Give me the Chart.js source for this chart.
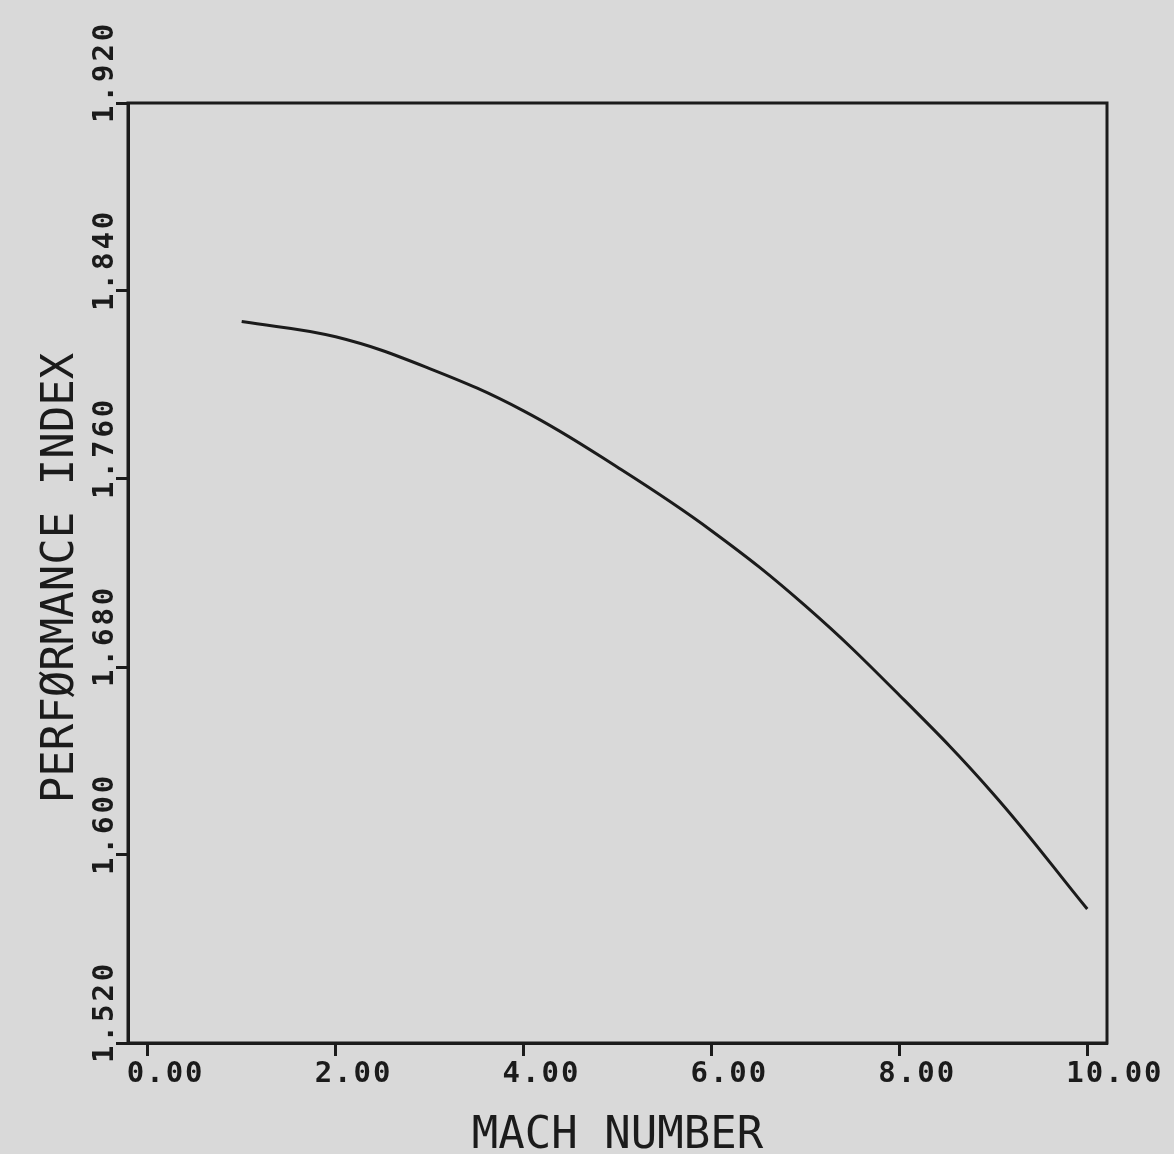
<!DOCTYPE html>
<html>
<head>
<meta charset="utf-8">
<script src="https://cdn.jsdelivr.net/npm/chart.js@4.4.1/dist/chart.umd.min.js"></script>
<style>
    html, body { margin: 0; padding: 0; background: #d9d9d9; }
    #wrap { width: 1174px; height: 1154px; position: relative; }
</style>
</head>
<body>
<div id="wrap"><canvas id="perfChart"></canvas></div>
<script>
// values
const machNumbers = [1, 2, 3, 4, 5, 6, 7, 8, 9, 10];
const performanceIndex = [1.827, 1.8205, 1.807, 1.789, 1.765, 1.738, 1.706, 1.668, 1.626, 1.577];

const xTicks = [0, 2, 4, 6, 8, 10];
const xTickLabels = ['0.00', '2.00', '4.00', '6.00', '8.00', '10.00'];
const yTicks = [1.52, 1.60, 1.68, 1.76, 1.84, 1.92];
const yTickLabels = ['1.520', '1.600', '1.680', '1.760', '1.840', '1.920'];

const ink = '#1b1b1b';
const tickFont = 'bold 29px "DejaVu Sans Mono"';
const titleFont = '44px "DejaVu Sans Mono"';

// frame + plotter-style labels
const plotterLabels = {
    id: 'plotterLabels',
    afterDraw(chart) {
        const ctx = chart.ctx;
        const area = chart.chartArea;
        const xs = chart.scales.x;
        const ys = chart.scales.y;

        ctx.save();
        ctx.strokeStyle = ink;
        ctx.lineWidth = 3;
        ctx.strokeRect(area.left, area.top, area.right - area.left, area.bottom - area.top);

        ctx.fillStyle = ink;
        ctx.font = tickFont;
        ctx.letterSpacing = '2px';
        ctx.textBaseline = 'alphabetic';
        ctx.textAlign = 'left';
        xTicks.forEach((v, i) => {
            ctx.fillText(xTickLabels[i], xs.getPixelForValue(v) - 21, 1082);
        });

        yTicks.forEach((v, i) => {
            ctx.save();
            ctx.translate(113, ys.getPixelForValue(v) + 20);
            ctx.rotate(-Math.PI / 2);
            ctx.letterSpacing = '3px';
            ctx.fillText(yTickLabels[i], 0, 0);
            ctx.restore();
        });

        ctx.font = titleFont;
        ctx.letterSpacing = '0px';
        ctx.textAlign = 'center';
        ctx.fillText('MACH NUMBER', (area.left + area.right) / 2, 1148);

        ctx.translate(73, (area.top + area.bottom) / 2 + 5);
        ctx.rotate(-Math.PI / 2);
        ctx.fillText('PERFØRMANCE INDEX', 0, 0);
        ctx.restore();
    }
};

const ctx = document.getElementById('perfChart').getContext('2d');
new Chart(ctx, {
    type: 'line',
    data: {
        datasets: [{
            data: machNumbers.map((m, i) => ({ x: m, y: performanceIndex[i] })),
            borderColor: ink,
            borderWidth: 3,
            pointRadius: 0,
            fill: false,
            tension: 0.4
        }]
    },
    options: {
        responsive: true,
        maintainAspectRatio: false,
        animation: false,
        layout: { padding: { top: 103, right: 67, left: 0, bottom: 0 } },
        plugins: {
            legend: { display: false },
            tooltip: { enabled: false },
            title: { display: false }
        },
        scales: {
            x: {
                type: 'linear',
                min: -0.21,
                max: 10.21,
                afterBuildTicks: s => { s.ticks = xTicks.map(v => ({ value: v })); },
                afterFit: s => { s.height = 111; },
                ticks: { display: false },
                grid: { drawOnChartArea: false, drawTicks: true, tickLength: 13, tickWidth: 3, color: ink },
                border: { display: true, width: 3, color: ink }
            },
            y: {
                type: 'linear',
                min: 1.52,
                max: 1.92,
                afterBuildTicks: s => { s.ticks = yTicks.map(v => ({ value: v })); },
                afterFit: s => { s.width = 128; },
                ticks: { display: false },
                grid: { drawOnChartArea: false, drawTicks: true, tickLength: 12, tickWidth: 3, color: ink },
                border: { display: true, width: 3, color: ink }
            }
        }
    },
    plugins: [plotterLabels]
});
</script>
</body>
</html>
